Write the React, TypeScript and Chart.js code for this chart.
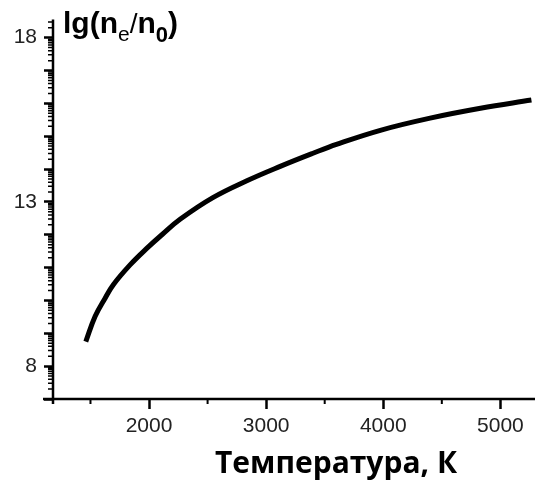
import React, { useEffect, useRef } from "react";
import { Chart, registerables } from "chart.js";

Chart.register(...registerables);

// Data
const temperatures = [1460, 1540, 1625, 1695, 1840, 1985, 2110, 2265, 2545, 2840, 3120, 3400, 3600, 3975, 4400, 4830, 5265];
const lgValues = [8.75, 9.52, 10.07, 10.48, 11.09, 11.6, 12.0, 12.47, 13.13, 13.65, 14.08, 14.48, 14.75, 15.18, 15.55, 15.85, 16.1];

const xMajorTicks = [2000, 3000, 4000, 5000];
const xMinorTicks = [1500, 2500, 3500, 4500];
const yLabelledTicks = [8, 13, 18];
const yIntegerTicks = [7, 8, 9, 10, 11, 12, 13, 14, 15, 16, 17, 18];

const X_MIN = 1180;
const X_MAX = 5270;
const Y_MIN = 7;
const Y_MAX = 18.55;

const xTitle = "Температура, К";

const axisPlugin = {
  id: "axisDecor",
  afterDraw(chart: any) {
    const ctx = chart.ctx as CanvasRenderingContext2D;
    const xs = chart.scales.x;
    const ys = chart.scales.y;
    const area = chart.chartArea;
    ctx.save();
    ctx.strokeStyle = "#000";
    ctx.lineWidth = 2.5;
    // axis lines
    ctx.beginPath();
    ctx.moveTo(area.left, area.top);
    ctx.lineTo(area.left, area.bottom + 5);
    ctx.moveTo(area.left - 10, area.bottom);
    ctx.lineTo(535, area.bottom);
    ctx.stroke();

    // y minor ticks (log style inside each unit)
    ctx.lineWidth = 1.5;
    ctx.beginPath();
    for (const n of yIntegerTicks) {
      for (let k = 2; k <= 9; k++) {
        const v = n + Math.log10(k);
        if (v > Y_MAX) continue;
        const py = ys.getPixelForValue(v);
        ctx.moveTo(area.left - 5, py);
        ctx.lineTo(area.left, py);
      }
    }
    ctx.stroke();

    // x minor ticks
    ctx.lineWidth = 2;
    ctx.beginPath();
    for (const t of xMinorTicks) {
      const px = xs.getPixelForValue(t);
      ctx.moveTo(px, area.bottom);
      ctx.lineTo(px, area.bottom + 5);
    }
    ctx.stroke();

    // y title lg(ne/n0)
    ctx.fillStyle = "#000";
    ctx.textBaseline = "alphabetic";
    ctx.textAlign = "left";
    let x = 63;
    const base = 33;
    const big = 'bold 30px "Liberation Sans", Arial, sans-serif';
    const small = '21px "Liberation Sans", Arial, sans-serif';
    const smallBold = 'bold 22px "Liberation Sans", Arial, sans-serif';
    const parts: [string, string, number][] = [
      ["lg(n", big, base],
      ["e", small, base + 8],
      ["/", '28px "Liberation Sans", Arial, sans-serif', base],
      ["n", big, base],
      ["0", smallBold, base + 9],
      [")", big, base],
    ];
    for (const [txt, font, by] of parts) {
      ctx.font = font;
      ctx.fillText(txt, x, by);
      x += ctx.measureText(txt).width;
    }

    // x title
    ctx.font = 'bold 30px "Open Sans", "Noto Sans", sans-serif';
    ctx.textAlign = "center";
    ctx.fillText(xTitle, 336, 473);
    ctx.restore();
  },
};

export default function App() {
  const ref = useRef<HTMLCanvasElement>(null);
  useEffect(() => {
    if (!ref.current) return;
    const chart = new Chart(ref.current, {
      type: "scatter",
      data: {
        datasets: [
          {
            data: temperatures.map((t, i) => ({ x: t, y: lgValues[i] })),
            showLine: true,
            borderColor: "#000",
            borderWidth: 5,
            pointRadius: 0,
            tension: 0.4,
            borderCapStyle: "butt",
          } as any,
        ],
      },
      options: {
        animation: false,
        responsive: false,
        devicePixelRatio: 1,
        layout: { padding: { top: 15, right: 3, left: 0, bottom: 0 } },
        plugins: { legend: { display: false }, tooltip: { enabled: false } },
        scales: {
          x: {
            type: "linear",
            min: X_MIN,
            max: X_MAX,
            afterBuildTicks: (s: any) => {
              s.ticks = xMajorTicks.map((v) => ({ value: v }));
            },
            afterFit: (s: any) => {
              s.height = 82;
            },
            grid: { drawOnChartArea: false, tickLength: 10, tickWidth: 2.5, tickColor: "#000" },
            border: { display: false },
            ticks: {
              color: "#222",
              font: { family: '"Liberation Sans", Arial, sans-serif', size: 21 },
              padding: 5,
              maxRotation: 0,
              callback: (v: any) => String(v),
            },
          },
          y: {
            type: "linear",
            min: Y_MIN,
            max: Y_MAX,
            afterBuildTicks: (s: any) => {
              s.ticks = yIntegerTicks.map((v) => ({ value: v }));
            },
            afterFit: (s: any) => {
              s.width = 53;
            },
            grid: { drawOnChartArea: false, tickLength: 9, tickWidth: 2.5, tickColor: "#000" },
            border: { display: false },
            ticks: {
              color: "#222",
              font: { family: '"Liberation Sans", Arial, sans-serif', size: 21 },
              padding: 7,
              autoSkip: false,
              callback: (v: any) => (yLabelledTicks.includes(Number(v)) ? String(v) : ""),
            },
          },
        },
      },
      plugins: [axisPlugin],
    });
    return () => chart.destroy();
  }, []);
  return (
    <div style={{ position: "fixed", left: 0, top: 0, width: 535, height: 481, background: "#fff" }}>
      <canvas ref={ref} width={535} height={481} style={{ width: 535, height: 481 }} />
    </div>
  );
}
